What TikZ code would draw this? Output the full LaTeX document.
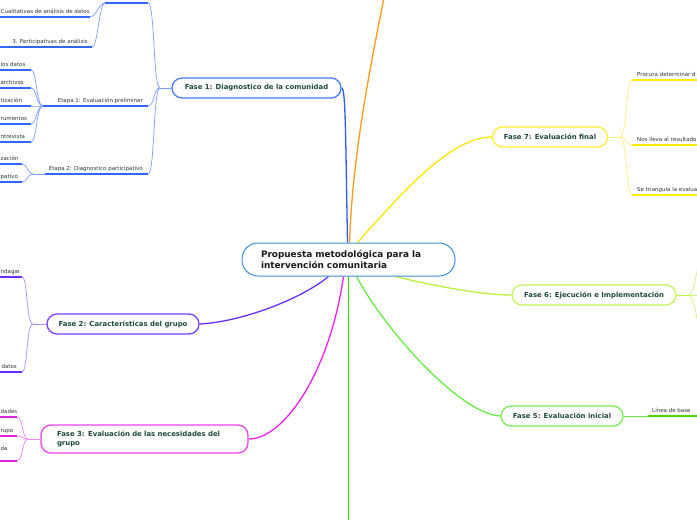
\documentclass[tikz,border=0pt]{standalone}
\usepackage{fontspec}
\setmainfont{DejaVu Sans}
\definecolor{fasetxt}{HTML}{1E4A3C}
\definecolor{leaftxt}{HTML}{333333}
\definecolor{cblue}{HTML}{3D8FD0}
\definecolor{bluB}{HTML}{4A7BFF}
\definecolor{bluM}{HTML}{2A5EF0}
\definecolor{bluU}{HTML}{3366FF}
\definecolor{bluS}{HTML}{7C9DFF}
\definecolor{purB}{HTML}{7A3DFF}
\definecolor{purM}{HTML}{6A2CFF}
\definecolor{purS}{HTML}{AA8CFF}
\definecolor{magB}{HTML}{EE44EE}
\definecolor{magM}{HTML}{EE22EE}
\definecolor{magU}{HTML}{E020E0}
\definecolor{magS}{HTML}{F288F2}
\definecolor{grnF}{HTML}{2DE000}
\definecolor{grnB}{HTML}{77EE55}
\definecolor{grnM}{HTML}{66EE44}
\definecolor{grnU}{HTML}{44DD00}
\definecolor{ygB}{HTML}{C4F55A}
\definecolor{ygM}{HTML}{BBF03C}
\definecolor{ygS}{HTML}{CCF577}
\definecolor{yelB}{HTML}{FFEE33}
\definecolor{yelM}{HTML}{FFE600}
\definecolor{yelU}{HTML}{FFEE00}
\definecolor{yelS}{HTML}{FFF07A}
\definecolor{orgM}{HTML}{FF9A1A}
\pgfdeclarelayer{bg}
\pgfsetlayers{bg,main}
\begin{document}
\begin{tikzpicture}[x=1pt,y=-1pt,
  fase/.style={draw, line width=1.3pt, rounded corners=10pt, fill=white, inner sep=0pt,
    font=\bfseries\fontsize{6.9}{8.6}\selectfont, text=fasetxt},
  leaf/.style={font=\fontsize{5.5}{6.6}\selectfont, text=leaftxt, inner sep=0pt},
  main/.style={line width=1.3pt},
  sub/.style={line width=0.7pt},
  under/.style={line width=2pt}
]
\useasboundingbox (0,0) rectangle (697,520);

% ---------- central node ----------
\node[draw=cblue, line width=1pt, rounded corners=16pt, fill=white,
  minimum width=213pt, minimum height=33pt, text width=175pt, inner xsep=19pt, inner ysep=0pt,
  align=left, font=\bfseries\fontsize{8.9}{11}\selectfont, text=black!90] (c) at (348.5,259.5)
  {Propuesta metodológica para la\\intervención comunitaria};

% ---------- phase nodes ----------
\node[fase, draw=bluB, minimum width=169pt, minimum height=20pt] (f1) at (256.5,88) {Fase 1: Diagnostico de la comunidad};
\node[fase, draw=purB, minimum width=152pt, minimum height=20pt] (f2) at (123,324) {Fase 2: Características del grupo};
\node[fase, draw=magB, minimum width=207pt, minimum height=28pt, text width=175pt, inner xsep=16pt, align=left] (f3) at (144.5,439)
  {Fase 3: Evaluación de las necesidades del\\grupo};
\node[fase, draw=grnB, minimum width=122pt, minimum height=20pt] (f5) at (562,416) {Fase 5: Evaluación inicial};
\node[fase, draw=ygB, minimum width=164pt, minimum height=20pt] (f6) at (594,295) {Fase 6: Ejecución e Implementación};
\node[fase, draw=yelB, minimum width=115pt, minimum height=20pt] (f7) at (550,137) {Fase 7: Evaluación final};

\coordinate (f4) at (348.5,525);
\coordinate (f8) at (384,-2);

% ---------- main connectors (behind the nodes) ----------
\begin{pgfonlayer}{bg}
\draw[main, bluM] ([xshift=-1pt]c.north) .. controls +(-2,-110) and +(4,0) .. (f1.east);
\draw[main, orgM] ([xshift=1pt]c.north) .. controls +(3,-90) and +(-12,60) .. (f8);
\draw[main, yelM] ([xshift=9pt]c.north) .. controls (400,195) and (450,137) .. (f7.west);
\draw[main, ygM] ([xshift=47pt]c.south) .. controls (430,285) and (480,295) .. (f6.west);
\draw[main, grnM] ([xshift=8pt]c.south) .. controls (385,330) and (460,414) .. (f5.west);
\draw[main, grnF] (c.south) -- (f4);
\draw[main, magM] ([xshift=-5pt]c.south) .. controls (330,370) and (285,439) .. (f3.east);
\draw[main, purM] ([xshift=-20pt]c.south) .. controls (300,300) and (240,322) .. (f2.east);
\end{pgfonlayer}

% ---------- Fase 1 subtree ----------
\coordinate (b1) at (160,88);
\coordinate (e3l) at (105,3);  \coordinate (e3r) at (148,3);
\coordinate (e1l) at (43,106); \coordinate (e1r) at (148,106);
\coordinate (e2l) at (45,174); \coordinate (e2r) at (148,174);
\draw[sub, bluS] (f1.west) -- (b1);
\foreach \t in {e3r,e1r,e2r} \draw[sub, bluS] (b1) .. controls +(-7,0) and +(7,0) .. (\t);
\draw[under, bluU] (e3l) -- (e3r);
\draw[under, bluU] (e1l) -- (e1r);
\draw[under, bluU] (e2l) -- (e2r);
\node[leaf, anchor=base east] (e1) at (143,102) {Etapa 1: Evaluación preliminar};
\node[leaf, anchor=base east] (e2) at (143,170) {Etapa 2: Diagnostico participativo};

% Etapa 3 children (top)
\coordinate (q1) at (90,17);  \coordinate (q1l) at (-5,17);
\coordinate (q2) at (92,47);  \coordinate (q2l) at (-5,47);
\draw[sub, bluS] (e3l) .. controls +(-6,0) and +(6,0) .. (q1);
\draw[sub, bluS] (e3l) .. controls +(-6,0) and +(6,0) .. (q2);
\draw[under, bluU] (q1l) -- (q1);
\draw[under, bluU] (q2l) -- (q2);
\node[leaf, anchor=base west] (t1) at (0.5,13) {Cualitativas de análisis de datos};
\node[leaf, anchor=base east] (t2) at (88,43) {3. Participativas de análisis};

% Etapa 1 children
\foreach \y/\txt/\n in {70/los datos/a, 88/archivos/b, 106/tización/c, 124/rumentos/d, 142/ntrevista/e}{
  \coordinate (p\n) at (31,\y);
  \coordinate (pl\n) at (-5,\y);
  \draw[sub, bluS] (e1l) .. controls +(-7,0) and +(6,0) .. (p\n);
  \draw[under, bluU] (pl\n) -- (p\n);
  \node[leaf, anchor=base west] (pt\n) at (0.5,\y-4) {\txt};
}

% Etapa 2 children
\coordinate (e2b) at (33,174);
\draw[sub, bluS] (e2l) -- (e2b);
\foreach \y/\txt/\n in {164/zación/a, 182/pativo/b}{
  \coordinate (r\n) at (22,\y);
  \coordinate (rl\n) at (-5,\y);
  \draw[sub, bluS] (e2b) .. controls +(-5,0) and +(5,0) .. (r\n);
  \draw[under, bluU] (rl\n) -- (r\n);
  \node[leaf, anchor=base west] (rt\n) at (0.5,\y-4) {\txt};
}

% ---------- Fase 2 subtree ----------
\coordinate (b2) at (33,324);
\draw[sub, purS] (f2.west) -- (b2);
\foreach \y/\txt/\n in {277/ndagar/a, 372/datos/b}{
  \coordinate (s\n) at (22,\y);
  \coordinate (sl\n) at (-5,\y);
  \draw[sub, purS] (b2) .. controls +(-7,0) and +(6,0) .. (s\n);
  \draw[under, purM] (sl\n) -- (s\n);
}
\node[leaf, anchor=base west] (sta) at (0.5,273) {ndagar};
\node[leaf, anchor=base east] (stb) at (17,368) {datos};

% ---------- Fase 3 subtree ----------
\coordinate (b3) at (28,439);
\draw[sub, magS] (f3.west) -- (b3);
\foreach \y/\txt/\by/\n in {417/dades/413/a, 436/rupo/432/b, 461/da/450/c}{
  \coordinate (u\n) at (17,\y);
  \coordinate (ul\n) at (-5,\y);
  \draw[sub, magS] (b3) .. controls +(-6,0) and +(6,0) .. (u\n);
  \draw[under, magU] (ul\n) -- (u\n);
  \node[leaf, anchor=base west] (ut\n) at (0.5,\by) {\txt};
}

% ---------- Fase 5 subtree ----------
\coordinate (l5l) at (648,416); \coordinate (l5r) at (705,416);
\draw[sub, grnM] (f5.east) -- (l5l);
\draw[under, grnU] (l5l) -- (l5r);
\node[leaf, anchor=base west] (l5) at (652,412) {Línea de base};

% ---------- Fase 6 subtree ----------
\coordinate (b6) at (688,295);
\draw[sub, ygM] (f6.east) -- (b6);
\foreach \y/\n in {248/a, 295/b, 342/c}{
  \coordinate (v\n) at (706,\y);
  \draw[sub, ygS] (b6) .. controls +(9,0) and +(-9,0) .. (v\n);
}

% ---------- Fase 7 subtree ----------
\coordinate (b7) at (620,137);
\draw[sub, yelS] (f7.east) -- (b7);
\foreach \y/\txt/\n in {80/Procura determinar d/a, 145/Nos lleva al resultado/b, 195/Se triangula la evalua/c}{
  \coordinate (w\n) at (632,\y);
  \coordinate (wr\n) at (705,\y);
  \draw[sub, yelS] (b7) .. controls +(7,0) and +(-6,0) .. (w\n);
  \draw[under, yelU] (w\n) -- (wr\n);
  \node[leaf, anchor=base west] (wt\n) at (637,\y-4) {\txt};
}
\end{tikzpicture}
\end{document}
